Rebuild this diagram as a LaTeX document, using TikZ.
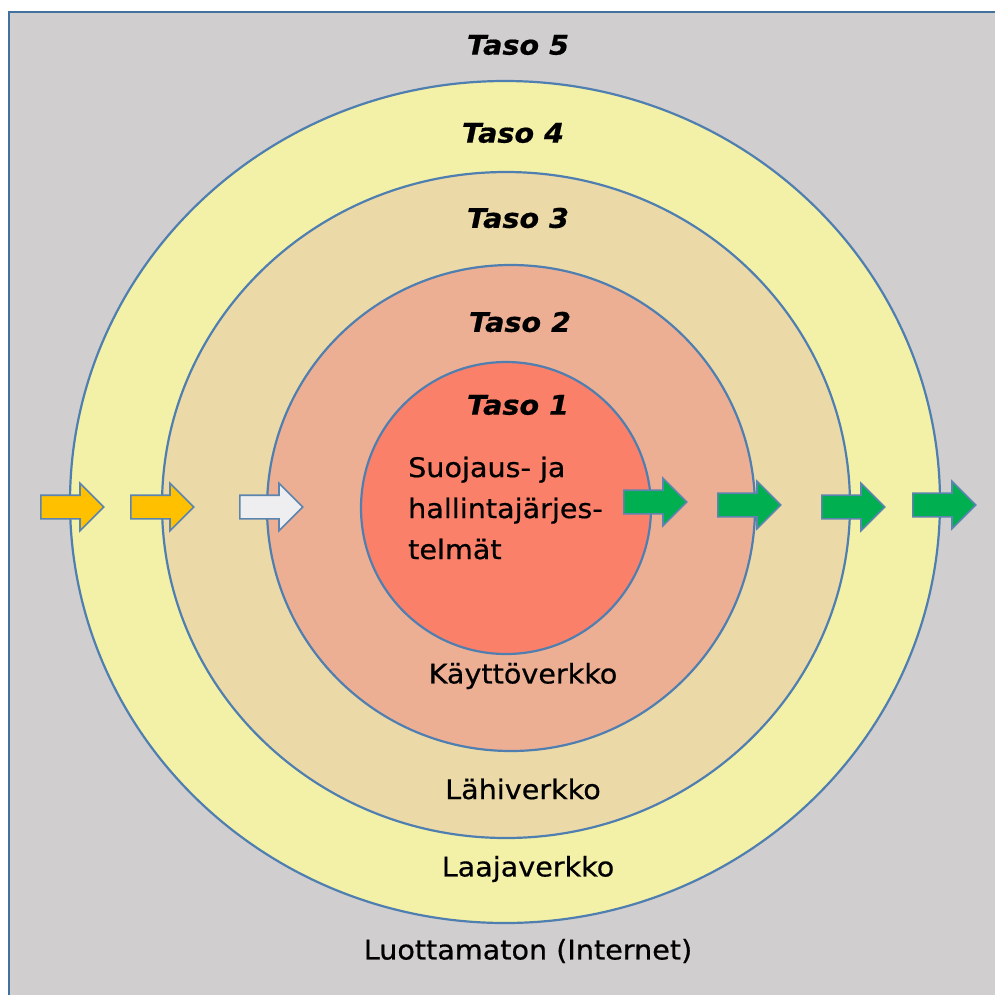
\documentclass[tikz,border=0pt]{standalone}
\usepackage{fontspec}
\setmainfont{DejaVu Sans}[FakeStretch=1.06, FakeBold=0.6]
\usetikzlibrary{shapes.arrows}
\definecolor{bggray}{HTML}{D0CECE}
\definecolor{frameblue}{HTML}{41719C}
\definecolor{ringline}{HTML}{4F7FB0}
\definecolor{c5}{HTML}{F3F0A7}
\definecolor{c4}{HTML}{EBDAA8}
\definecolor{c3}{HTML}{EDAF94}
\definecolor{c2}{HTML}{FA806A}
\definecolor{ayellow}{HTML}{FFC000}
\definecolor{awhite}{HTML}{EEEEF0}
\definecolor{agreen}{HTML}{00B050}
\definecolor{aline}{HTML}{5B84AE}
\tikzset{
  ring/.style={draw=ringline, line width=2.2pt},
  tasolbl/.style={font=\fontsize{27}{30}\selectfont\bfseries\itshape, inner sep=0pt},
  netlbl/.style={font=\fontsize{27}{30}\selectfont, inner sep=0pt},
  blockarrow/.style={single arrow, draw=aline, line width=1.6pt, minimum height=63pt,
    minimum width=46pt, inner sep=11pt, single arrow head extend=12pt, anchor=tail}
}
\begin{document}
\begin{tikzpicture}[x=1pt,y=-1pt]
\useasboundingbox (0,0) rectangle (995,994);
\fill[white] (0,0) rectangle (995,994);
\draw[fill=bggray, draw=frameblue, line width=2pt] (9,12) rectangle (1010,1010);
% rings
\draw[ring, fill=c5] (505,502) ellipse [x radius=435, y radius=421];
\draw[ring, fill=c4] (506,505) ellipse [x radius=344, y radius=333];
\draw[ring, fill=c3] (511,508) ellipse [x radius=244, y radius=243];
\draw[ring, fill=c2] (506,508) ellipse [x radius=145, y radius=146];
% labels
\node[tasolbl] (t5) at (518,45) {Taso 5};
\node[tasolbl] (t4) at (513,133) {Taso 4};
\node[tasolbl] (t3) at (518,218) {Taso 3};
\node[tasolbl] (t2) at (520,322) {Taso 2};
\node[tasolbl] (t1) at (518,405) {Taso 1};
\node[netlbl, anchor=west, align=left, font=\fontsize{27}{41}\selectfont] (core) at (408,508)
  {Suojaus- ja\\hallintajärjes-\\telmät};
\node[netlbl] (kv) at (523,676) {Käyttöverkko};
\node[netlbl] (lv) at (523,789) {Lähiverkko};
\node[netlbl] (wv) at (528,869) {Laajaverkko};
\node[netlbl] (inet) at (528,951) {Luottamaton (Internet)};
% arrows
\node[blockarrow, fill=ayellow] (a1) at (40,507) {};
\node[blockarrow, fill=ayellow] (a2) at (130,507) {};
\node[blockarrow, fill=awhite] (a3) at (239,507) {};
\node[blockarrow, fill=agreen] (g1) at (623,502) {};
\node[blockarrow, fill=agreen] (g2) at (717,505) {};
\node[blockarrow, fill=agreen] (g3) at (821,507) {};
\node[blockarrow, fill=agreen] (g4) at (912,505) {};
\end{tikzpicture}
\end{document}
